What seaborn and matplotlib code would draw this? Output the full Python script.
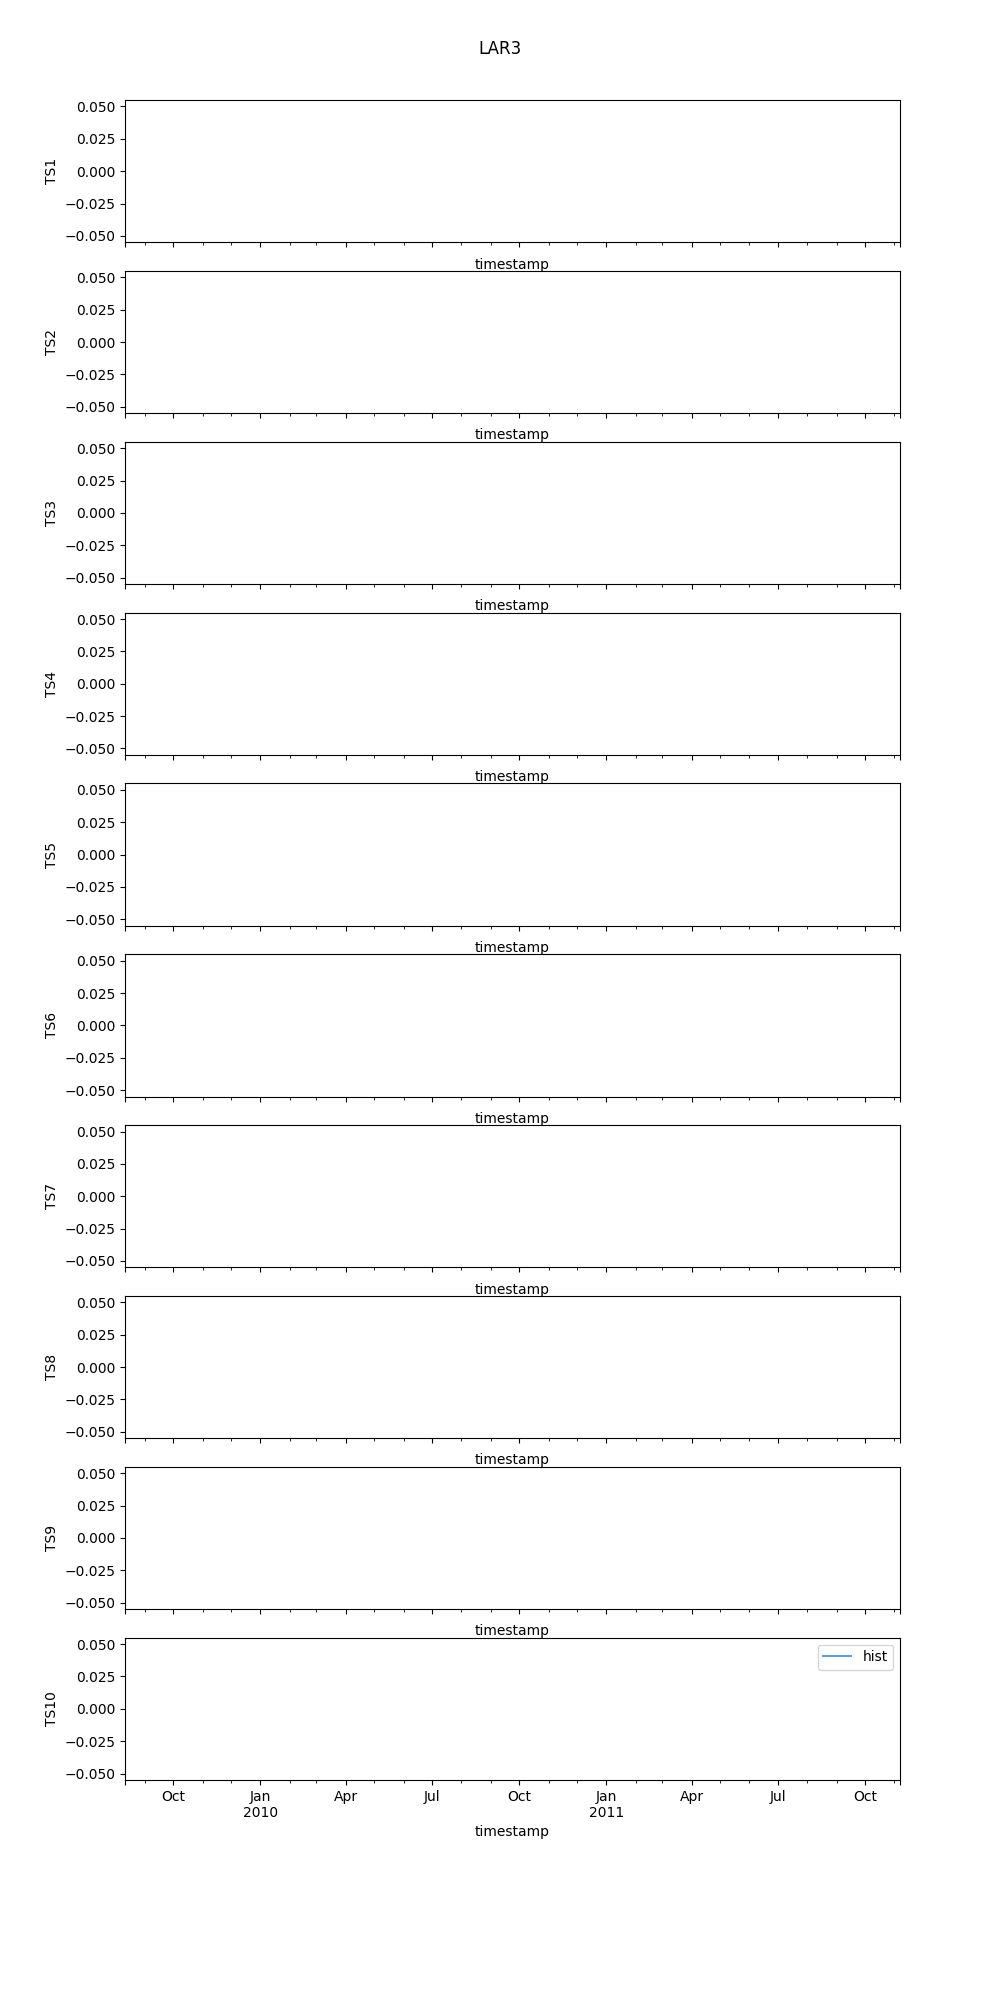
import numpy as np
import pandas as pd
import seaborn as sns
import matplotlib
matplotlib.use("Agg")
import matplotlib.pyplot as plt
import matplotlib.dates as mdates
from matplotlib.lines import Line2D

# dados: as séries estão vazias (sem valores visíveis)
nomes_series = ["TS1", "TS2", "TS3", "TS4", "TS5", "TS6", "TS7", "TS8", "TS9", "TS10"]
timestamps = ["2009-08-11", "2011-11-07"]
valores_hist = [np.nan, np.nan]

ticks_trimestre = ["2009-10-01", "2010-01-01", "2010-04-01", "2010-07-01", "2010-10-01",
                   "2011-01-01", "2011-04-01", "2011-07-01", "2011-10-01"]
labels_trimestre = ["Oct", "Jan\n2010", "Apr", "Jul", "Oct", "Jan\n2011", "Apr", "Jul", "Oct"]

limites_y = (-0.055, 0.055)
cor_hist = "#1f77b4"

datas = pd.to_datetime(timestamps)
df = pd.DataFrame({"timestamp": datas})
for nome in nomes_series:
    df[nome] = valores_hist

fig, axes = plt.subplots(len(nomes_series), 1, figsize=(10, 20))
fig.subplots_adjust(top=0.95)
fig.suptitle("LAR3")

x_min, x_max = datas.min(), datas.max()
ticks_maiores = [x_min] + list(pd.to_datetime(ticks_trimestre)) + [x_max]
labels_maiores = [""] + labels_trimestre + [""]

for i, (ax, nome) in enumerate(zip(axes, nomes_series)):
    ultimo = i == len(nomes_series) - 1
    try:
        sns.lineplot(data=df, x="timestamp", y=nome, ax=ax, color=cor_hist, alpha=0.7,
                     label="hist" if ultimo else None, legend=False)
    except Exception:
        ax.plot(df["timestamp"], df[nome], color=cor_hist, alpha=0.7)

    ax.set_xlim(x_min, x_max)
    ax.set_ylim(*limites_y)
    ax.xaxis.set_major_locator(matplotlib.ticker.FixedLocator(mdates.date2num(ticks_maiores)))
    ax.xaxis.set_major_formatter(matplotlib.ticker.FixedFormatter(labels_maiores))
    ax.xaxis.set_minor_locator(mdates.MonthLocator())
    ax.xaxis.set_minor_formatter(matplotlib.ticker.NullFormatter())
    ax.set_ylabel(nome)
    if not ultimo:
        # rótulos ocultos, mas o espaço do pad continua como no original
        ax.tick_params(axis="x", labelbottom=False)
        ax.set_xlabel("timestamp", labelpad=5.5)
    else:
        ax.set_xlabel("timestamp")
        for lbl in ax.get_xticklabels():
            lbl.set_rotation(0)
            lbl.set_ha("center")
        ax.legend(handles=[Line2D([], [], color=cor_hist, alpha=0.7, label="hist")],
                  loc="upper right")

fig.savefig("out.png", dpi=100)
